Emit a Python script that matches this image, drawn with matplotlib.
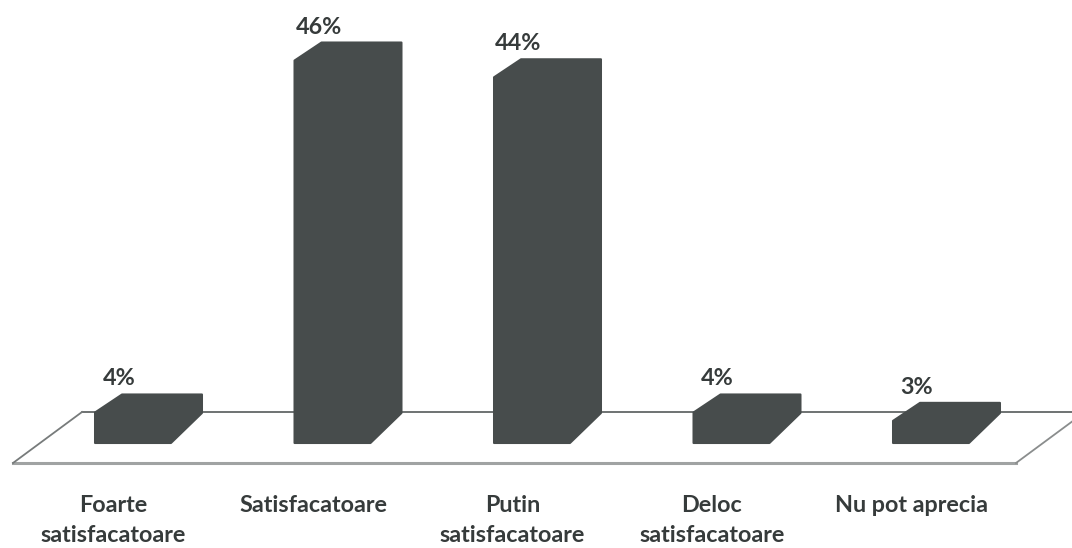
import matplotlib.pyplot as plt
from matplotlib.patches import Polygon

# chart data
categories = ["Foarte\nsatisfacatoare", "Satisfacatoare", "Putin\nsatisfacatoare",
              "Deloc\nsatisfacatoare", "Nu pot aprecia"]
values = [4, 46, 44, 4, 3]
value_labels = ["4%", "46%", "44%", "4%", "3%"]

W, H = 1072, 548
fig = plt.figure(figsize=(W / 100, H / 100), dpi=100)
ax = fig.add_axes([0, 0, 1, 1])

# scales: one category = 199.5 px, one percent = 8.38 px
PX_X = 199.5
PX_Y = 8.38
ax.set_xlim(-148.5 / PX_X, (W - 148.5) / PX_X)
ax.set_ylim((428 - H) / PX_Y, 428 / PX_Y)
ax.axis("off")


def px(dx, dy):
    # pixel offsets -> data offsets
    return dx / PX_X, dy / PX_Y


bar_color = "#474c4c"
text_color = "#363b3b"
font = "Lato"
fsize = 16.8

half = 0.268
base = -15 / PX_Y          # bottom of bar face (3d depth below zero)
tlx, tly = px(27, 18)      # top-left bevel
brx, bry = px(31, 30)      # bottom-right bevel

for i, v in enumerate(values):
    L, R = i - half, i + half
    T = v
    pts = [(L, base), (L, T - tly), (L + tlx, T), (R, T),
           (R, base + bry), (R - brx, base)]
    ax.add_patch(Polygon(pts, closed=True, facecolor=bar_color,
                         edgecolor=bar_color, lw=1.5, joinstyle="round", zorder=3))
    ox, oy = px(24, 5)
    ax.text(L + ox, T + oy, value_labels[i], ha="center", va="bottom",
            fontsize=fsize, fontweight="bold", color=text_color, family=font)
    lx, ly = px(-35, 0)
    ax.text(i + lx, -67 / PX_Y, categories[i], ha="center", va="top",
            fontsize=fsize, fontweight="bold", color=text_color, family=font,
            linespacing=1.5)

# floor of the 3d chart
def fp(x, y):
    return ((x - 148.5) / PX_X, (428 - y) / PX_Y)

back_l, back_r = fp(82, 412), fp(1085, 412)
front_l, front_r = fp(13, 463), fp(1016, 463)
ax.plot([back_l[0], back_r[0]], [back_l[1], back_r[1]], color="#555a5a", lw=1.2, zorder=2)
ax.plot([front_l[0], front_r[0]], [front_l[1], front_r[1]], color="#a0a3a3", lw=2.2, zorder=2)
ax.plot([front_l[0], back_l[0]], [front_l[1], back_l[1]], color="#777b7b", lw=1.3, zorder=2)
ax.plot([front_r[0], back_r[0]], [front_r[1], back_r[1]], color="#8a8d8d", lw=1.3, zorder=2)

fig.savefig("out.png", dpi=100)
